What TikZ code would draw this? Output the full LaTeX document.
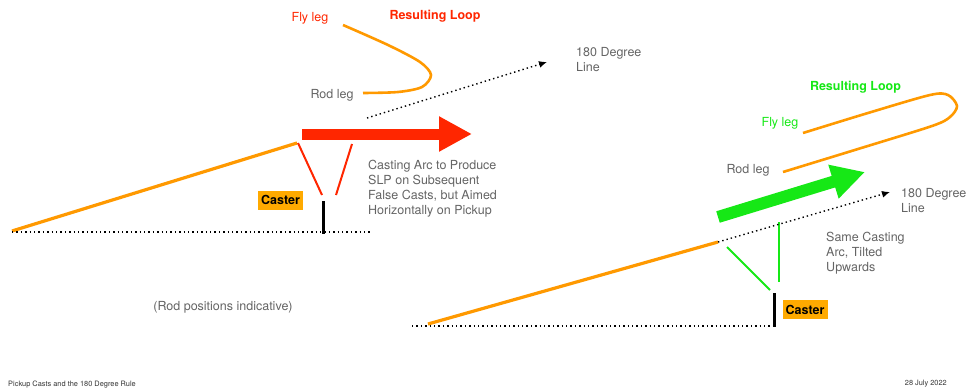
\documentclass[tikz,border=0pt]{standalone}
\usepackage{fontspec}
\setmainfont{TeX Gyre Heros}
\usetikzlibrary{arrows.meta}
\definecolor{lineorange}{RGB}{255,153,0}
\definecolor{boxorange}{RGB}{255,170,0}
\definecolor{loopred}{RGB}{255,38,0}
\definecolor{loopgreen}{RGB}{22,232,22}
\definecolor{textgray}{RGB}{100,100,100}

\begin{document}
\begin{tikzpicture}[x=1pt, y=-1pt,
	rodline/.style={line width=3.2pt, lineorange},
	loopline/.style={line width=2.6pt, lineorange},
	arcline/.style={line width=2pt},
	casterrod/.style={line width=3pt, black},
	dotline/.style={line width=1.4pt, dash pattern=on 1.4pt off 3pt},
	degarrow/.style={dotline, -{Latex[length=8pt,width=7pt]}},
	bigarrow/.style={-{Triangle[length=33pt,width=33pt]}},
	note/.style={font=\fontsize{12.5}{15}\selectfont, textgray, align=left, inner sep=0pt},
	legnote/.style={font=\fontsize{12.5}{15}\selectfont, inner sep=0pt},
	looplabel/.style={font=\fontsize{12.5}{15}\selectfont\bfseries, inner sep=0pt},
	casterbox/.style={fill=boxorange, font=\fontsize{12.5}{15}\selectfont\bfseries, minimum width=45pt, minimum height=19pt, inner sep=0pt},
	footer/.style={font=\fontsize{7.4}{8}\selectfont, black!80, inner sep=0pt}]
	
	\useasboundingbox (0,0) rectangle (967,391);
	
	% horizontal pickup
	\coordinate (rodL1) at (12,231);
	\coordinate (rodL2) at (297,143);
	\coordinate (arcL1a) at (298,143);
	\coordinate (arcL1b) at (322,195);
	\coordinate (arcL2a) at (352,144);
	\coordinate (arcL2b) at (336,195);
	\coordinate (handL) at (323,201);
	\coordinate (footL) at (323,234);
	\coordinate (waterL1) at (12,232);
	\coordinate (waterL2) at (370,232);
	\coordinate (degL1) at (367,118);
	\coordinate (degL2) at (547,62);
	\coordinate (redtail) at (302,134);
	\coordinate (redtip) at (472,134);
	
	\draw [rodline] (rodL1) -- (rodL2);
	\draw [arcline, loopred] (arcL1a) -- (arcL1b);
	\draw [arcline, loopred] (arcL2a) -- (arcL2b);
	\draw [casterrod] (handL) -- (footL);
	\draw [dotline] (waterL1) -- (waterL2);
	\draw [degarrow] (degL1) -- (degL2);
	\draw [bigarrow, line width=11pt, loopred] (redtail) -- (redtip);
	\draw [loopline] plot [smooth] coordinates {(343,25) (388,45) (420,62) (431,75) (422,87) (398,92) (363,93)};
	
	\node [legnote, loopred] (flyL) at (310,18) {Fly leg};
	\node [looplabel, loopred] (loopL) at (435,16) {Resulting Loop};
	\node [note] (rodlegL) at (332,95) {Rod leg};
	\node [note, anchor=west] (degtextL) at (576,60) {180 Degree\\Line};
	\node [note, anchor=west] (arctextL) at (368,189) {Casting Arc to Produce\\SLP on Subsequent\\False Casts, but Aimed\\Horizontally on Pickup};
	\node [casterbox] (casterL) at (280.5,200) {Caster};
	\node [note] (indicative) at (223,307) {(Rod positions indicative)};
	
	% tilted pickup
	\coordinate (rodR1) at (428,324);
	\coordinate (rodR2) at (718,242);
	\coordinate (arcR1a) at (727,247);
	\coordinate (arcR1b) at (770,290);
	\coordinate (arcR2a) at (779,222);
	\coordinate (arcR2b) at (779,282);
	\coordinate (handR) at (774,293);
	\coordinate (footR) at (774,327);
	\coordinate (waterR1) at (412,326);
	\coordinate (waterR2) at (774,326);
	\coordinate (degR2) at (890,192);
	\coordinate (greentail) at (718,217);
	\coordinate (greentip) at (865,172);
	
	\draw [rodline] (rodR1) -- (rodR2);
	\draw [arcline, loopgreen] (arcR1a) -- (arcR1b);
	\draw [arcline, loopgreen] (arcR2a) -- (arcR2b);
	\draw [casterrod] (handR) -- (footR);
	\draw [dotline] (waterR1) -- (waterR2);
	\draw [degarrow] (rodR2) -- (degR2);
	\draw [bigarrow, line width=12pt, loopgreen] (greentail) -- (greentip);
	\draw [loopline] plot [smooth] coordinates {(803,133) (868,113) (930,95) (948,95) (957,106) (950,117) (932,126) (858,149) (783,172)};
	
	\node [looplabel, loopgreen] (loopR) at (855.5,87) {Resulting Loop};
	\node [legnote, loopgreen] (flyR) at (780,123) {Fly leg};
	\node [note] (rodlegR) at (748,170) {Rod leg};
	\node [note, anchor=west] (degtextR) at (901,201) {180 Degree\\Line};
	\node [note, anchor=west] (sametext) at (826,253) {Same Casting\\Arc, Tilted\\Upwards};
	\node [casterbox] (casterR) at (805,309.5) {Caster};
	
	\node [footer, anchor=west] (title) at (8,385) {Pickup Casts and the 180 Degree Rule};
	\node [footer, anchor=east] (date) at (947,384) {28 July 2022};
	
\end{tikzpicture}
\end{document}
